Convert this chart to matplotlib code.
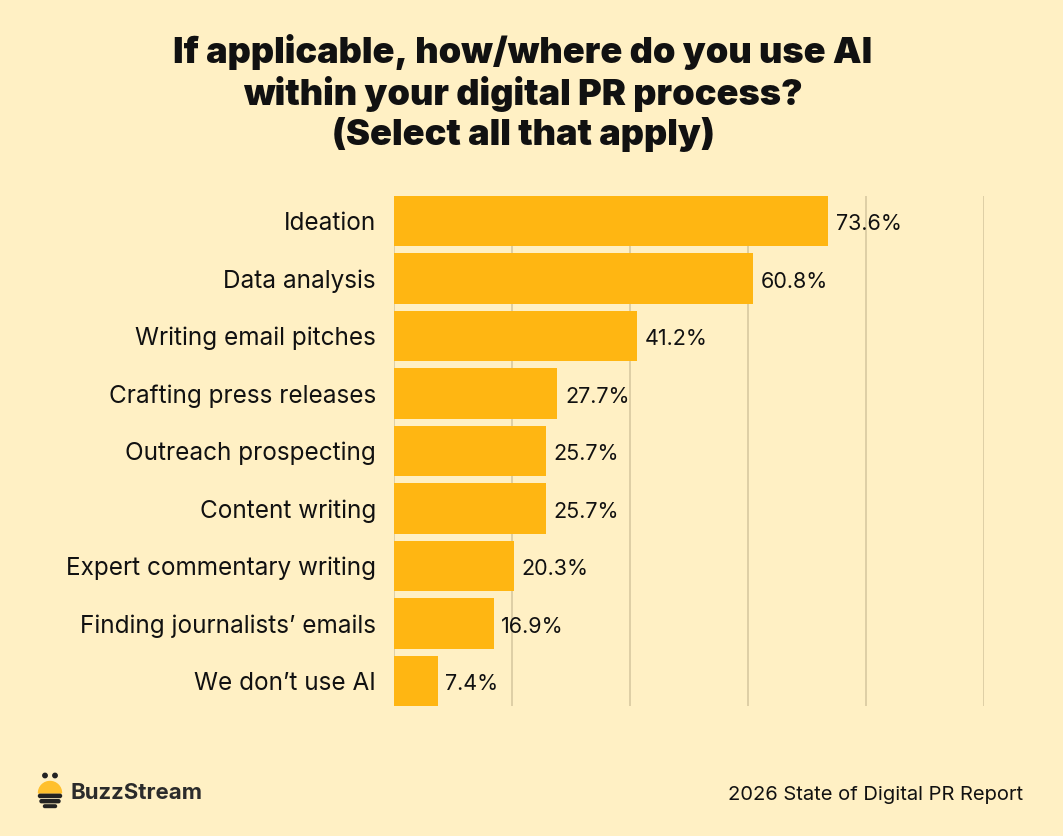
import matplotlib
matplotlib.use("Agg")
import matplotlib.pyplot as plt
from matplotlib.patches import Circle, Wedge, FancyBboxPatch

categories = ["Ideation", "Data analysis", "Writing email pitches", "Crafting press releases",
              "Outreach prospecting", "Content writing", "Expert commentary writing",
              "Finding journalists’ emails", "We don’t use AI"]
values = [73.6, 60.8, 41.2, 27.7, 25.7, 25.7, 20.3, 16.9, 7.4]
xticks = [0, 20, 40, 60, 80, 100]

BG = "#FFF0C4"
BAR = "#FFB612"
GRID = "#D8C9A0"
FONT = "Inter"

fig = plt.figure(figsize=(10.63, 8.36), dpi=100, facecolor=BG)
W, H = 1063, 836
ax = fig.add_axes([394 / W, 1 - 706 / H, (984 - 394) / W, (706 - 196) / H])
ax.set_facecolor(BG)

ypos = list(range(len(categories)))
ax.barh(ypos, values, height=0.87, color=BAR, zorder=2)
ax.set_xlim(0, 100)
ax.set_ylim(8.435, -0.435)
ax.set_xticks(xticks)
ax.xaxis.grid(True, color=GRID, linewidth=1.2, zorder=0)
ax.tick_params(axis="x", length=0, labelbottom=False)
ax.tick_params(axis="y", length=0, pad=13)
ax.set_yticks(ypos)
ax.set_yticklabels(categories, fontsize=17.5, fontfamily=FONT, color="#111111")
for s in ax.spines.values():
    s.set_visible(False)

for y, v in zip(ypos, values):
    ax.text(v + 1.3, y + 0.06, f"{v}%", va="center", ha="left", fontsize=15.5,
            fontfamily=FONT, color="#111111")

fig.text(523 / W, 1 - 93 / H,
         "If applicable, how/where do you use AI\nwithin your digital PR process?\n(Select all that apply)",
         ha="center", va="center", fontsize=26, fontweight="black", fontfamily=FONT,
         linespacing=1.18, color="#111111")

fig.text(1023 / W, 1 - 795 / H, "2026 State of Digital PR Report", ha="right", va="center",
         fontsize=14.5, fontfamily=FONT, color="#111111")

fig.text(71 / W, 1 - 793 / H, "BuzzStream", ha="left", va="center", fontsize=16,
         fontweight="bold", fontfamily=FONT, color="#2B2B2B")

# bee logo
lax = fig.add_axes([30 / W, 1 - 812 / H, 40 / W, 44 / H])
lax.set_xlim(0, 40)
lax.set_ylim(0, 44)
lax.set_aspect("equal")
lax.axis("off")
lax.add_patch(Circle((15, 36.5), 2.2, color="#222222"))
lax.add_patch(Circle((25, 36.5), 2.2, color="#222222"))
lax.add_patch(Wedge((20, 19), 11.5, 0, 180, color="#FFC02E"))
lax.add_patch(FancyBboxPatch((8.5, 14.5), 23, 3.2, boxstyle="round,pad=0,rounding_size=1.6", color="#222222"))
lax.add_patch(FancyBboxPatch((10, 9.3), 20, 3.0, boxstyle="round,pad=0,rounding_size=1.5", color="#222222"))
lax.add_patch(FancyBboxPatch((13.5, 4.5), 13, 2.6, boxstyle="round,pad=0,rounding_size=1.3", color="#222222"))

fig.savefig("out.png", dpi=100, facecolor=BG)
